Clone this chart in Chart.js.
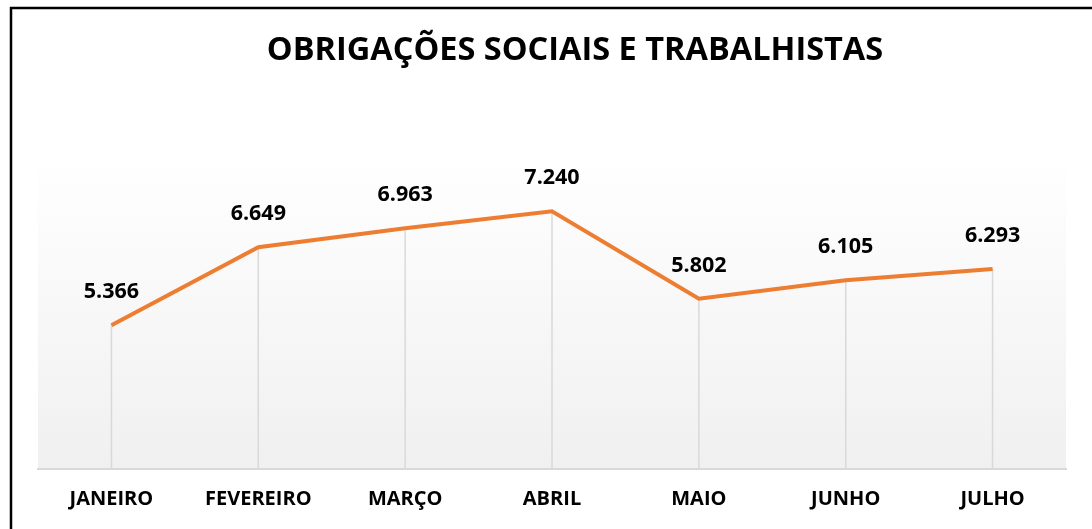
<!DOCTYPE html>
<html>
<head>
<meta charset="utf-8">
<script src="https://cdn.jsdelivr.net/npm/chart.js@4"></script>
<style>
  html, body { margin: 0; padding: 0; background: #fff; }
  #wrap { width: 1092px; height: 529px; }
</style>
</head>
<body>
<div id="wrap"><canvas id="obrigacoes-chart"></canvas></div>
<script>
/* chart data */
let titleText = 'OBRIGAÇÕES SOCIAIS E TRABALHISTAS'
let months = ['JANEIRO', 'FEVEREIRO', 'MARÇO', 'ABRIL', 'MAIO', 'JUNHO', 'JULHO']
let values = [5.366, 6.649, 6.963, 7.240, 5.802, 6.105, 6.293]
let valueLabels = ['5.366', '6.649', '6.963', '7.240', '5.802', '6.105', '6.293']

let fontName = '"Open Sans", "Noto Sans", sans-serif'

// frame lines + gradient plot background
let backgroundPlugin = {
    id: 'background',
    beforeDraw(chart) {
        let c = chart.ctx
        let area = chart.chartArea
        c.save()
        let grad = c.createLinearGradient(0, area.top, 0, area.bottom)
        grad.addColorStop(0, '#ffffff')
        grad.addColorStop(1, '#f0f0f0')
        c.fillStyle = grad
        c.fillRect(area.left, area.top, area.right - area.left, area.bottom - area.top)

        c.strokeStyle = '#000'
        c.lineWidth = 2.5
        c.beginPath()
        c.moveTo(11, chart.height + 5)
        c.lineTo(11, 8)
        c.lineTo(chart.width + 5, 8)
        c.stroke()

        c.fillStyle = '#000'
        c.font = 'bold 32.5px ' + fontName
        c.textAlign = 'center'
        c.textBaseline = 'alphabetic'
        c.fillText(titleText, 575, 60)
        c.restore()
    },
    // drop lines from each point down to the axis
    beforeDatasetsDraw(chart) {
        let c = chart.ctx
        let meta = chart.getDatasetMeta(0)
        let bottom = chart.chartArea.bottom
        c.save()
        c.strokeStyle = '#d9d9d9'
        c.lineWidth = 1.5
        meta.data.forEach(function(pt) {
            c.beginPath()
            c.moveTo(pt.x, pt.y)
            c.lineTo(pt.x, bottom)
            c.stroke()
        })
        c.restore()
    },
    // value labels above points
    afterDatasetsDraw(chart) {
        let c = chart.ctx
        let meta = chart.getDatasetMeta(0)
        c.save()
        c.fillStyle = '#000'
        c.font = 'bold 21.5px ' + fontName
        c.textAlign = 'center'
        c.textBaseline = 'middle'
        meta.data.forEach(function(pt, i) {
            c.fillText(valueLabels[i], pt.x, pt.y - 33)
        })
        c.restore()
    }
}

let ctx = document.querySelector('#obrigacoes-chart').getContext('2d')

let chart = new Chart(ctx, {
    type: 'line',
    data: {
        labels: months,
        datasets: [
            {
                data: values,
                borderColor: '#ED7D31',
                borderWidth: 4,
                pointRadius: 0,
                tension: 0,
                fill: false
            }
        ]
    },
    options: {
        responsive: true,
        maintainAspectRatio: false,
        animation: false,
        events: [],
        layout: {
            padding: { left: 38, right: 26, top: 153, bottom: 0 }
        },
        plugins: {
            legend: { display: false },
            title: { display: false },
            tooltip: { enabled: false }
        },
        scales: {
            x: {
                offset: true,
                grid: { display: false, drawTicks: false },
                border: { display: true, color: '#d9d9d9', width: 2 },
                ticks: {
                    color: '#000',
                    padding: 20,
                    font: { family: fontName, size: 20, weight: 'bold', lineHeight: 1.0 }
                }
            },
            y: {
                display: false,
                min: 3,
                max: 8.2
            }
        }
    },
    plugins: [backgroundPlugin]
})
</script>
</body>
</html>
